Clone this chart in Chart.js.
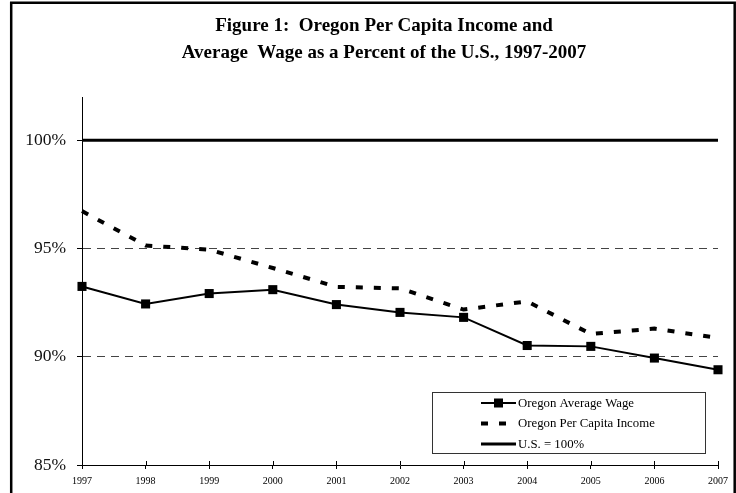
<!DOCTYPE html>
<html>
<head>
<meta charset="utf-8">
<script src="https://cdn.jsdelivr.net/npm/chart.js@4.4.1/dist/chart.umd.min.js"></script>
<style>
  html, body { margin: 0; padding: 0; background: #fff; }
  #wrap { width: 736px; height: 493px; }
</style>
</head>
<body>
<div id="wrap"><canvas id="chart" width="736" height="493"></canvas></div>
<script>
// Years on the horizontal axis
const years = ['1997', '1998', '1999', '2000', '2001', '2002', '2003', '2004', '2005', '2006', '2007'];
// Oregon as a percent of the U.S. level
const avgWage   = [93.25, 92.44, 92.92, 93.10, 92.41, 92.05, 91.82, 90.52, 90.48, 89.94, 89.40];
const perCapita = [96.73, 95.14, 94.95, 94.10, 93.23, 93.16, 92.18, 92.56, 91.05, 91.30, 90.87];
const usLevel   = [100, 100, 100, 100, 100, 100, 100, 100, 100, 100, 100];
// Value axis ticks
const yTicks = [85, 90, 95, 100];
const titleLines = ['Figure 1:  Oregon Per Capita Income and', 'Average  Wage as a Percent of the U.S., 1997-2007'];

const SERIF = "'Liberation Serif', 'Times New Roman', serif";

// White page with the black frame around the figure
const framePlugin = {
  id: 'frame',
  beforeDraw(chart) {
    const ctx = chart.ctx;
    ctx.save();
    ctx.fillStyle = '#fff';
    ctx.fillRect(0, 0, chart.width, chart.height);
    ctx.strokeStyle = '#000';
    ctx.lineWidth = 2.5;
    ctx.beginPath();
    ctx.moveTo(11.2, chart.height + 2);
    ctx.lineTo(11.2, 2.7);
    ctx.lineTo(734.7, 2.7);
    ctx.lineTo(734.7, chart.height + 2);
    ctx.stroke();
    ctx.restore();
  }
};

// Centre the title over the figure frame rather than the whole canvas
const titleSpan = {
  id: 'titleSpan',
  afterLayout(chart) {
    if (chart.titleBlock) {
      chart.titleBlock.left = 50;
      chart.titleBlock.right = 718;
    }
  }
};

// Year tick marks that cross the horizontal axis
const crossTicks = {
  id: 'crossTicks',
  afterDatasetsDraw(chart) {
    const x = chart.scales.x, ctx = chart.ctx;
    const yb = chart.chartArea.bottom;
    ctx.save();
    ctx.strokeStyle = '#000';
    ctx.lineWidth = 1;
    ctx.beginPath();
    x.ticks.forEach((t, i) => {
      const px = Math.round(x.getPixelForTick(i)) + 0.5;
      ctx.moveTo(px, yb - 4);
      ctx.lineTo(px, yb);
    });
    ctx.stroke();
    ctx.restore();
  }
};

// Boxed legend inside the plot, built from the dataset styles
const boxLegend = {
  id: 'boxLegend',
  afterDraw(chart) {
    const ctx = chart.ctx;
    const x0 = 432.5, y0 = 392.5, w = 273, h = 61;
    const rows = [403, 423.5, 444];
    ctx.save();
    ctx.fillStyle = '#fff';
    ctx.fillRect(x0, y0, w, h);
    ctx.strokeStyle = '#333';
    ctx.lineWidth = 1;
    ctx.strokeRect(x0, y0, w, h);
    chart.data.datasets.forEach((ds, i) => {
      const y = rows[i];
      ctx.strokeStyle = ds.borderColor;
      ctx.lineWidth = ds.borderWidth;
      ctx.setLineDash(ds.borderDash || []);
      ctx.beginPath();
      ctx.moveTo(481, y);
      ctx.lineTo(516, y);
      ctx.stroke();
      ctx.setLineDash([]);
      if (ds.pointRadius > 0) {
        ctx.fillStyle = ds.pointBackgroundColor;
        ctx.fillRect(494, y - 4.5, 9, 9);
      }
      ctx.fillStyle = '#000';
      ctx.font = '12.8px ' + SERIF;
      ctx.textBaseline = 'middle';
      ctx.textAlign = 'left';
      ctx.fillText(ds.label, 518, y + 0.5);
    });
    ctx.restore();
  }
};

new Chart(document.getElementById('chart'), {
  type: 'line',
  data: {
    labels: years,
    datasets: [
      {
        label: 'Oregon Average Wage',
        data: avgWage,
        borderColor: '#000',
        borderWidth: 2,
        pointStyle: 'rect',
        pointRadius: 6.4,
        pointBackgroundColor: '#000',
        pointBorderColor: '#000',
        pointBorderWidth: 0,
        tension: 0,
        clip: false
      },
      {
        label: 'Oregon Per Capita Income',
        data: perCapita,
        borderColor: '#000',
        borderWidth: 4,
        borderDash: [7, 11],
        borderCapStyle: 'butt',
        pointRadius: 0,
        tension: 0,
        clip: false
      },
      {
        label: 'U.S. = 100%',
        data: usLevel,
        borderColor: '#000',
        borderWidth: 3,
        pointRadius: 0,
        tension: 0,
        clip: false
      }
    ]
  },
  options: {
    responsive: false,
    animation: false,
    devicePixelRatio: 1,
    layout: { padding: { left: 0, right: 18, top: 0, bottom: 0 } },
    plugins: {
      legend: { display: false },
      tooltip: { enabled: false },
      title: {
        display: true,
        text: titleLines,
        color: '#000',
        font: { family: SERIF, size: 19, weight: 'bold', lineHeight: 27 / 19 },
        padding: { top: 13, bottom: 30 }
      }
    },
    scales: {
      x: {
        offset: false,
        grid: { drawOnChartArea: false, drawTicks: true, tickLength: 4, color: '#000', tickColor: '#000' },
        border: { color: '#000', width: 1 },
        ticks: { color: '#000', font: { family: SERIF, size: 10 }, padding: 6, maxRotation: 0, autoSkip: false },
        afterFit(s) { s.height = 28; s.paddingLeft = 0; s.paddingRight = 0; }
      },
      y: {
        min: 85,
        max: 102,
        afterBuildTicks(s) { s.ticks = yTicks.map(v => ({ value: v })); },
        grid: {
          color: c => (c.tick && (c.tick.value === 90 || c.tick.value === 95)) ? '#444' : 'rgba(0,0,0,0)',
          tickColor: '#000',
          tickLength: 5,
          lineWidth: 1
        },
        border: { color: '#000', width: 1, dash: [8, 6] },
        ticks: { color: '#111', font: { family: SERIF, size: 17.5 }, padding: 11, callback: v => v + '%' },
        afterFit(s) { s.width = 82; s.paddingTop = 0; s.paddingBottom = 0; }
      }
    }
  },
  plugins: [framePlugin, titleSpan, crossTicks, boxLegend]
});
</script>
</body>
</html>
